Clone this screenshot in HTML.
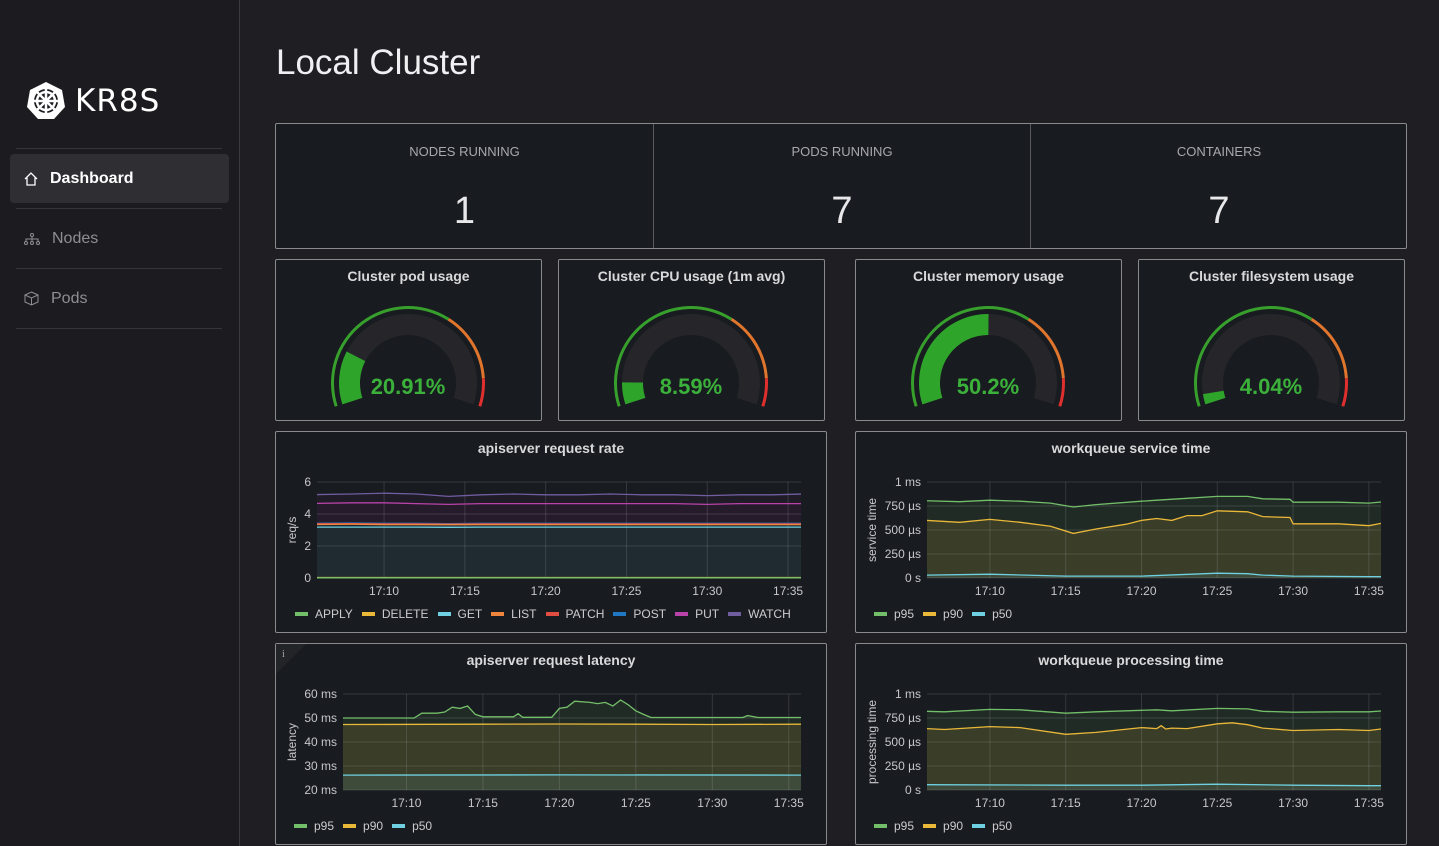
<!DOCTYPE html>
<html><head><meta charset="utf-8">
<style>
*{box-sizing:border-box;margin:0;padding:0}
body{width:1439px;height:846px;background:#1f1f23;font-family:"Liberation Sans",sans-serif;position:relative;overflow:hidden;color:#d8d9da}
.side{position:absolute;left:0;top:0;width:240px;height:846px;background:#1c1c20;border-right:1px solid #3a3a40}
.sep{position:absolute;left:16px;width:206px;height:1px;background:#34343a}
.nav{position:absolute;left:10px;width:219px;height:49px;border-radius:4px;font-size:16px;display:flex;align-items:center;padding-left:14px}
.nav span{margin-left:12px}
.panel{position:absolute;background:#181b1f;border:1px solid #8a8a8e;border-radius:2px}
.ptitle{position:absolute;left:0;right:0;top:8px;text-align:center;font-size:14px;font-weight:bold;color:#d8d9da}
.stat{position:absolute;top:0;height:100%;text-align:center}
.stat .l{position:absolute;left:0;right:0;top:20px;font-size:13px;color:#a8a8ae}
.stat .v{position:absolute;left:0;right:0;top:66px;font-size:38px;color:#e8e8ea}
.legend{position:absolute;display:flex;font-size:12px;color:#ccccd0;align-items:center}
.legend .it{display:flex;align-items:center;margin-right:9px}
.legend .mk{width:13px;height:4px;margin-right:7px}
</style></head><body>
<div class="side">
  <svg style="position:absolute;left:26px;top:81px" width="40" height="40" viewBox="0 0 40 40">
    <polygon points="20,1 36,9 39,26 28,38 12,38 1,26 4,9" fill="#fff"/>
    <circle cx="20" cy="20" r="12" fill="#1c1c20"/>
    <circle cx="20" cy="20" r="9" fill="none" stroke="#fff" stroke-width="2.5"/>
    <g stroke="#fff" stroke-width="2.5"><line x1="20" y1="6" x2="20" y2="34"/><line x1="6" y1="20" x2="34" y2="20"/><line x1="10" y1="10" x2="30" y2="30"/><line x1="30" y1="10" x2="10" y2="30"/></g>
    <circle cx="20" cy="20" r="3" fill="#fff"/>
  </svg>
  <div style="position:absolute;left:75px;top:83px;font-size:31px;color:#fff;letter-spacing:1px;font-family:'DejaVu Sans',sans-serif">KR8S</div>
  <div class="sep" style="top:148px"></div>
  <div class="nav" style="top:154px;background:#2e2e33;color:#fff;font-weight:bold">
    <svg width="14" height="14" viewBox="0 0 14 14"><path d="M1 7 L7 1 L13 7 M3 5.5 V13 H11 V5.5" fill="none" stroke="#fff" stroke-width="1.3"/></svg><span>Dashboard</span></div>
  <div class="sep" style="top:208px"></div>
  <div class="nav" style="top:214px;color:#8e8e93">
    <svg width="16" height="12" viewBox="0 0 16 12"><g fill="none" stroke="#8e8e93"><circle cx="8" cy="2" r="1.5"/><circle cx="2" cy="10" r="1.5"/><circle cx="8" cy="10" r="1.5"/><circle cx="14" cy="10" r="1.5"/><path d="M8 3.5V6M2 8.5V6H14V8.5M8 6V8.5"/></g></svg><span>Nodes</span></div>
  <div class="sep" style="top:268px"></div>
  <div class="nav" style="top:274px;color:#8e8e93">
    <svg width="15" height="15" viewBox="0 0 15 15"><g fill="none" stroke="#8e8e93"><path d="M7.5 1 L14 4 V11 L7.5 14 L1 11 V4 Z M1 4 L7.5 7 L14 4 M7.5 7 V14"/></g></svg><span>Pods</span></div>
  <div class="sep" style="top:328px"></div>
</div>

<div style="position:absolute;left:276px;top:43px;font-size:35px;color:#f0f0f2">Local Cluster</div>

<div class="panel" style="left:275px;top:123px;width:1132px;height:126px">
  <div class="stat" style="left:0;width:377px"><div class="l">NODES RUNNING</div><div class="v">1</div></div>
  <div class="stat" style="left:377px;width:377px;border-left:1px solid #5a5a5e"><div class="l">PODS RUNNING</div><div class="v">7</div></div>
  <div class="stat" style="left:754px;width:377px;border-left:1px solid #5a5a5e"><div class="l">CONTAINERS</div><div class="v">7</div></div>
</div>

<div class="panel" style="left:275px;top:259px;width:267px;height:162px"><div class="ptitle">Cluster pod usage</div></div>
<div class="panel" style="left:558px;top:259px;width:267px;height:162px"><div class="ptitle">Cluster CPU usage (1m avg)</div></div>
<div class="panel" style="left:855px;top:259px;width:267px;height:162px"><div class="ptitle">Cluster memory usage</div></div>
<div class="panel" style="left:1138px;top:259px;width:267px;height:162px"><div class="ptitle">Cluster filesystem usage</div></div>

<div class="panel" style="left:275px;top:431px;width:552px;height:202px"><div class="ptitle">apiserver request rate</div></div>
<div class="panel" style="left:855px;top:431px;width:552px;height:202px"><div class="ptitle">workqueue service time</div></div>
<div class="panel" style="left:275px;top:643px;width:552px;height:202px"><div class="ptitle">apiserver request latency</div>
  <svg style="position:absolute;left:0;top:0" width="30" height="30"><polygon points="0,0 30,0 0,30" fill="#222428"/><text x="6" y="13" font-size="10" fill="#aaa" font-family="Liberation Serif">i</text></svg></div>
<div class="panel" style="left:855px;top:643px;width:552px;height:202px"><div class="ptitle">workqueue processing time</div></div>

<div class="legend" style="left:295px;top:607px">
  <div class="it"><div class="mk" style="background:#73bf69"></div>APPLY</div>
  <div class="it"><div class="mk" style="background:#eab839"></div>DELETE</div>
  <div class="it"><div class="mk" style="background:#6ed0e0"></div>GET</div>
  <div class="it"><div class="mk" style="background:#ef843c"></div>LIST</div>
  <div class="it"><div class="mk" style="background:#e24d42"></div>PATCH</div>
  <div class="it"><div class="mk" style="background:#1f78c1"></div>POST</div>
  <div class="it"><div class="mk" style="background:#ba43a9"></div>PUT</div>
  <div class="it"><div class="mk" style="background:#705da0"></div>WATCH</div>
</div>
<div class="legend" style="left:874px;top:607px">
  <div class="it"><div class="mk" style="background:#73bf69"></div>p95</div><div class="it"><div class="mk" style="background:#eab839"></div>p90</div><div class="it"><div class="mk" style="background:#6ed0e0"></div>p50</div></div>
<div class="legend" style="left:294px;top:819px">
  <div class="it"><div class="mk" style="background:#73bf69"></div>p95</div><div class="it"><div class="mk" style="background:#eab839"></div>p90</div><div class="it"><div class="mk" style="background:#6ed0e0"></div>p50</div></div>
<div class="legend" style="left:874px;top:819px">
  <div class="it"><div class="mk" style="background:#73bf69"></div>p95</div><div class="it"><div class="mk" style="background:#eab839"></div>p90</div><div class="it"><div class="mk" style="background:#6ed0e0"></div>p50</div></div>

<svg id="ov" width="1439" height="846" style="position:absolute;left:0;top:0;pointer-events:none" font-family="Liberation Sans, sans-serif"></svg>

<script>
// ---- gauge data ----
const gaugeLabels = ["pod","cpu","memory","filesystem"];
const gaugeValues = [20.91, 8.59, 50.2, 4.04];
const gaugeTexts = ["20.91%","8.59%","50.2%","4.04%"];
const gaugeThresholds = [65, 90];

// ---- shared time axis (minutes after 17:00) ----
const xTickValues = [10,15,20,25,30,35];
const xTickLabels = ["17:10","17:15","17:20","17:25","17:30","17:35"];

// ---- request rate ----
const rateTimes = [5,8,10,12,14,16,18,20,22,24,26,28,30,32,34,36];
const rateWatch = [5.2,5.25,5.3,5.25,5.1,5.2,5.25,5.2,5.2,5.25,5.2,5.2,5.15,5.2,5.2,5.25];
const ratePut = [4.65,4.7,4.7,4.65,4.6,4.65,4.65,4.65,4.65,4.65,4.65,4.65,4.6,4.65,4.65,4.65];
const ratePost = [3.42,3.44,3.42,3.42,3.4,3.42,3.42,3.42,3.42,3.42,3.42,3.42,3.42,3.42,3.42,3.42];
const ratePatch = [3.38,3.4,3.38,3.38,3.37,3.38,3.38,3.38,3.38,3.38,3.38,3.38,3.38,3.38,3.38,3.38];
const rateList = [3.34,3.36,3.34,3.34,3.33,3.34,3.34,3.34,3.34,3.34,3.34,3.34,3.34,3.34,3.34,3.34];
const rateGet = [3.18,3.18,3.18,3.18,3.17,3.18,3.18,3.18,3.18,3.18,3.18,3.18,3.18,3.18,3.18,3.18];
const rateDelete = [0.03,0.03,0.03,0.03,0.03,0.03,0.03,0.03,0.03,0.03,0.03,0.03,0.03,0.03,0.03,0.03];
const rateApply = [0.01,0.01,0.01,0.01,0.01,0.01,0.01,0.01,0.01,0.01,0.01,0.01,0.01,0.01,0.01,0.01];
const rateYTicks = [0,2,4,6];
const rateYLabels = ["0","2","4","6"];

// ---- workqueue service time (µs) ----
const svcP95Times = [5.8,8,10,12,14,15.5,17,20,21,23,25,27,28,29.8,30,33,35,36];
const svcP95 = [805,795,810,800,780,740,765,800,810,830,850,850,825,820,790,790,780,795];
const svcP90Times = [5.8,8,10,12,14,15.5,17,19,20,21,22,23,24,25,27,28,29.8,30,33,35,36];
const svcP90 = [600,580,610,580,540,465,510,560,600,620,600,650,650,700,690,640,630,565,565,545,575];
const svcP50Times = [5.8,10,15,20,25,27,28,30,35,36];
const svcP50 = [30,40,20,20,50,45,30,20,15,15];
const usYTicks = [0,250,500,750,1000];
const usYLabels = ["0 s","250 µs","500 µs","750 µs","1 ms"];

// ---- apiserver latency (ms) ----
const latP95Times = [5.8,10.5,11,12,12.5,13,13.5,14,14.5,15,17,17.3,17.6,19.5,20,20.5,21,22,22.5,23,23.5,24,24.5,25,25.5,26,32,32.3,33,36];
const latP95 = [50,50,52,52,52.5,54.5,54,55,51.5,50.5,50.5,51.8,50.3,50.3,54,54.5,57,56.5,56,56.5,55,57.5,55.5,53,51.5,50.2,50.2,51,50.2,50.2];
const latP90Times = [5.8,15,20,25,30,36];
const latP90 = [47.3,47.4,47.5,47.4,47.3,47.4];
const latP50Times = [5.8,20,36];
const latP50 = [26.2,26.3,26.2];
const latYTicks = [20,30,40,50,60];
const latYLabels = ["20 ms","30 ms","40 ms","50 ms","60 ms"];

// ---- workqueue processing time (µs) ----
const procP95Times = [5.8,7,10,12,15,17,20,21,22,25,27,28,30,33,35,36];
const procP95 = [820,815,840,835,800,815,830,835,825,850,845,820,810,815,815,825];
const procP90Times = [5.8,7,10,12,15,17,20,21,21.3,21.6,22,23,25,26,27,28,30,33,35,36];
const procP90 = [640,630,660,650,580,600,650,640,670,635,645,640,690,700,680,645,620,630,620,640];
const procP50Times = [5.8,15,20,25,30,35,36];
const procP50 = [55,50,50,60,50,45,45];

const NS = "http://www.w3.org/2000/svg";
const ov = document.getElementById("ov");
function mk(tag, attrs, parent){const e=document.createElementNS(NS,tag);for(const k in attrs)e.setAttribute(k,attrs[k]);(parent||ov).appendChild(e);return e;}

// ---- gauges ----
const gaugeCX = [408,691,988,1271];
const GCY = 383, A0 = 198, SWEEP = 216;
function pt(cx,cy,r,a){const rad=a*Math.PI/180;return [cx+r*Math.cos(rad), cy-r*Math.sin(rad)];}
function arcPath(cx,cy,r1,r2,f0,f1){
  const a0=A0-SWEEP*f0, a1=A0-SWEEP*f1, large=(SWEEP*(f1-f0))>180?1:0;
  const p1=pt(cx,cy,r2,a0),p2=pt(cx,cy,r2,a1),p3=pt(cx,cy,r1,a1),p4=pt(cx,cy,r1,a0);
  return `M${p1[0]},${p1[1]} A${r2},${r2} 0 ${large} 1 ${p2[0]},${p2[1]} L${p3[0]},${p3[1]} A${r1},${r1} 0 ${large} 0 ${p4[0]},${p4[1]} Z`;
}
gaugeValues.forEach((v,i)=>{
  const cx=gaugeCX[i];
  const g=mk("g",{});
  
  
  const t0=gaugeThresholds[0]/100, t1=gaugeThresholds[1]/100;
  mk("path",{d:arcPath(cx,GCY,74,77,0,t0),fill:"#37a02d"},g);
  mk("path",{d:arcPath(cx,GCY,74,77,t0,t1),fill:"#e0752d"},g);
  mk("path",{d:arcPath(cx,GCY,74,77,t1,1),fill:"#e02f2f"},g);
  mk("path",{d:arcPath(cx,GCY,48,69,0,1),fill:"#25252a"},g);
  mk("path",{d:arcPath(cx,GCY,48,69,0,v/100),fill:"#2ea42a"},g);
  const tx=mk("text",{x:cx,y:GCY+11,"text-anchor":"middle","font-size":"22","font-weight":"bold",fill:"#3bb03a"},g);
  tx.textContent=gaugeTexts[i];
});

// ---- line charts ----
const TMIN=5.85, TMAX=35.8;
function chart(name, box, ymin, ymax, yTicks, yLabels, axisTitle, series){
  const g=mk("g",{});
  
  
  const xs=t=>box.x0+(t-TMIN)/(TMAX-TMIN)*(box.x1-box.x0);
  const ys=v=>box.y1-(v-ymin)/(ymax-ymin)*(box.y1-box.y0);
  const cid="clip-"+name;
  const cp=mk("clipPath",{id:cid},g); mk("rect",{x:box.x0,y:box.y0-3,width:box.x1-box.x0,height:box.y1-box.y0+4},cp);
  const pg=mk("g",{"clip-path":`url(#${cid})`},g);
  series.forEach(s=>{
    let d="";
    s.t.forEach((t,i)=>{d+=(i?"L":"M")+xs(t).toFixed(1)+","+ys(s.v[i]).toFixed(1);});
    const fill=d+`L${xs(s.t[s.t.length-1])},${box.y1}L${xs(s.t[0])},${box.y1}Z`;
    if(s.fc) mk("path",{d:fill,fill:s.fc},pg);
    else mk("path",{d:fill,fill:s.c,"fill-opacity":s.fo==null?0.1:s.fo},pg);
  });
  yTicks.forEach((v,i)=>{
    mk("line",{x1:box.x0,x2:box.x1,y1:ys(v),y2:ys(v),stroke:"rgba(204,204,220,0.16)","stroke-width":1},g);
    const t=mk("text",{x:box.x0-6,y:ys(v)+4,"text-anchor":"end","font-size":"12",fill:"#c7c7cc"},g);
    t.textContent=yLabels[i];
  });
  xTickValues.forEach((v,i)=>{
    mk("line",{x1:xs(v),x2:xs(v),y1:box.y0,y2:box.y1,stroke:"rgba(204,204,220,0.16)","stroke-width":1},g);
    const t=mk("text",{x:xs(v),y:box.y1+17,"text-anchor":"middle","font-size":"12",fill:"#c7c7cc"},g);
    t.textContent=xTickLabels[i];
  });
  const at=mk("text",{x:0,y:0,"text-anchor":"middle","font-size":"12",fill:"#c7c7cc",transform:`translate(${box.tx},${(box.y0+box.y1)/2}) rotate(-90)`},g);
  at.textContent=axisTitle;
  const lg=mk("g",{"clip-path":`url(#${cid})`},g);
  series.forEach(s=>{
    let d="";
    s.t.forEach((t,i)=>{d+=(i?"L":"M")+xs(t).toFixed(1)+","+ys(s.v[i]).toFixed(1);});
    const l=mk("path",{d:d,fill:"none",stroke:s.c,"stroke-width":1.3},lg);
    
    
  });
}
chart("chart-request-rate",{x0:317,x1:801,y0:482,y1:578,tx:296},0,6,rateYTicks,rateYLabels,"req/s",[
  {n:"watch",t:rateTimes,v:rateWatch,c:"#705da0",fc:"#1f1c27"},
  {n:"put",t:rateTimes,v:ratePut,c:"#ba43a9",fc:"#251b2b"},
  {n:"post",t:rateTimes,v:ratePost,c:"#1f78c1",fc:"#1d2430"},
  {n:"patch",t:rateTimes,v:ratePatch,c:"#e24d42",fc:"#1f2530"},
  {n:"list",t:rateTimes,v:rateList,c:"#ef843c",fc:"#1f2730"},
  {n:"get",t:rateTimes,v:rateGet,c:"#6ed0e0",fc:"#1f2a31"},
  {n:"delete",t:rateTimes,v:rateDelete,c:"#eab839"},
  {n:"apply",t:rateTimes,v:rateApply,c:"#73bf69"}]);
chart("chart-service-time",{x0:927,x1:1381,y0:482,y1:578,tx:876},0,1000,usYTicks,usYLabels,"service time",[
  {n:"p95",t:svcP95Times,v:svcP95,c:"#73bf69"},
  {n:"p90",t:svcP90Times,v:svcP90,c:"#eab839",fo:0.13},
  {n:"p50",t:svcP50Times,v:svcP50,c:"#6ed0e0"}]);
chart("chart-latency",{x0:343,x1:801,y0:694,y1:790,tx:296},20,60,latYTicks,latYLabels,"latency",[
  {n:"p95",t:latP95Times,v:latP95,c:"#73bf69"},
  {n:"p90",t:latP90Times,v:latP90,c:"#eab839",fo:0.13},
  {n:"p50",t:latP50Times,v:latP50,c:"#6ed0e0"}]);
chart("chart-processing-time",{x0:927,x1:1381,y0:694,y1:790,tx:876},0,1000,usYTicks,usYLabels,"processing time",[
  {n:"p95",t:procP95Times,v:procP95,c:"#73bf69"},
  {n:"p90",t:procP90Times,v:procP90,c:"#eab839",fo:0.13},
  {n:"p50",t:procP50Times,v:procP50,c:"#6ed0e0"}]);
</script>
</body></html>
